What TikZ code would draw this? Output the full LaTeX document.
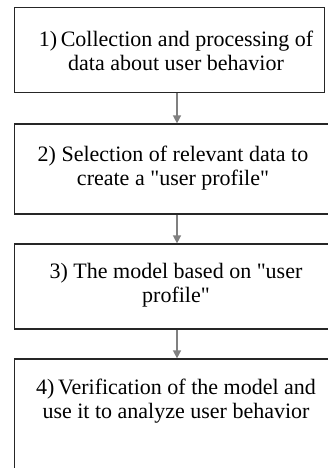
\documentclass[tikz,border=0pt]{standalone}
\usepackage{fontspec}
\setmainfont{Liberation Serif}
\usetikzlibrary{arrows.meta}
\begin{document}
\begin{tikzpicture}[x=1pt,y=-1pt,
  stepbox/.style={draw=black!85, line width=1.2pt, rectangle, inner sep=0pt},
  steptext/.style={align=center, font=\fontsize{22}{24.5}\selectfont, inner sep=0pt},
  flow/.style={draw=black!50, line width=1.4pt, -{Triangle[length=8pt,width=8pt]}}]
  \useasboundingbox (0,0) rectangle (327,468);
  % frames
  \node[stepbox, minimum width=309.8pt, minimum height=85.2pt] (b1) at (169.6,50.1) {};
  \node[stepbox, minimum width=325pt, minimum height=90pt] (b2) at (177.2,169) {};
  \node[stepbox, minimum width=325pt, minimum height=85pt] (b3) at (177.2,286.5) {};
  \node[stepbox, minimum width=325pt, minimum height=130pt] (b4) at (177.2,424) {};
  % captions
  \node[steptext] (t1) at (176,51) {1)\,Collection and processing of\\data about user behavior};
  \node[steptext] (t2) at (173,168) {2) Selection of relevant data to\\create a \textquotedbl user profile\textquotedbl};
  \node[steptext] (t3) at (176,285) {3) The model based on \textquotedbl user\\profile\textquotedbl};
  \node[steptext] (t4) at (176,401) {4)\,Verification of the model and\\use it to analyze user behavior};
  % connectors
  \draw[flow] (177,0 |- b1.south) -- (177,0 |- b2.north);
  \draw[flow] (177,0 |- b2.south) -- (177,0 |- b3.north);
  \draw[flow] (177,0 |- b3.south) -- (177,0 |- b4.north);
\end{tikzpicture}
\end{document}
